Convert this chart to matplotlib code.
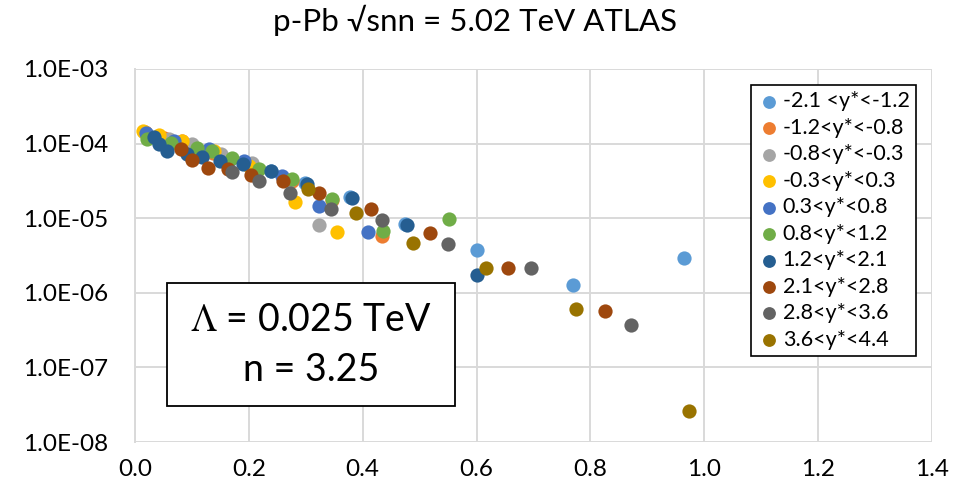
import matplotlib
matplotlib.use("Agg")
import matplotlib.pyplot as plt
from matplotlib.patches import Rectangle

plt.rcParams['font.family'] = ['Lato', 'DejaVu Sans']
plt.rcParams['mathtext.fontset'] = 'stix'

# rapidity bins (legend labels) and marker colours
labels = ['-2.1 <y*<-1.2', '-1.2<y*<-0.8', '-0.8<y*<-0.3', '-0.3<y*<0.3',
          '0.3<y*<0.8', '0.8<y*<1.2', '1.2<y*<2.1', '2.1<y*<2.8',
          '2.8<y*<3.6', '3.6<y*<4.4']
colors = ['#5B9BD5', '#ED7D31', '#A5A5A5', '#FFC000', '#4472C4',
          '#70AD47', '#255E91', '#9E480E', '#636363', '#997300']

# scaled spectra per rapidity bin
x_m21 = [0.019, 0.047, 0.104, 0.165, 0.239, 0.299, 0.378, 0.475, 0.601, 0.770, 0.964]
y_m21 = [1.39e-4, 1.16e-4, 8.0e-5, 5.9e-5, 4.3e-5, 3.0e-5, 1.94e-5, 8.4e-6, 3.7e-6, 1.28e-6, 2.95e-6]

x_m12 = [0.018, 0.051, 0.083, 0.137, 0.200, 0.276, 0.346, 0.434]
y_m12 = [1.44e-4, 1.19e-4, 1.09e-4, 7.5e-5, 5.3e-5, 3.2e-5, 1.75e-5, 5.8e-6]

x_m08 = [0.016, 0.060, 0.100, 0.151, 0.206, 0.271, 0.324]
y_m08 = [1.44e-4, 1.16e-4, 9.9e-5, 7.3e-5, 5.5e-5, 3.2e-5, 8.2e-6]

x_m03 = [0.014, 0.042, 0.083, 0.139, 0.200, 0.281, 0.355]
y_m03 = [1.48e-4, 1.31e-4, 1.09e-4, 8.0e-5, 5.0e-5, 1.66e-5, 6.6e-6]

x_p03 = [0.019, 0.069, 0.130, 0.192, 0.259, 0.324, 0.410]
y_p03 = [1.39e-4, 1.09e-4, 8.5e-5, 5.9e-5, 3.7e-5, 1.47e-5, 6.6e-6]

x_p08 = [0.021, 0.063, 0.109, 0.135, 0.171, 0.218, 0.276, 0.346, 0.436, 0.552]
y_p08 = [1.16e-4, 1.02e-4, 8.7e-5, 8.0e-5, 6.4e-5, 4.6e-5, 3.4e-5, 1.82e-5, 6.8e-6, 9.8e-6]

x_p12 = [0.033, 0.042, 0.056, 0.091, 0.118, 0.149, 0.190, 0.239, 0.302, 0.382, 0.478, 0.601]
y_p12 = [1.23e-4, 9.9e-5, 8.0e-5, 7.3e-5, 6.6e-5, 5.9e-5, 5.3e-5, 4.3e-5, 2.9e-5, 1.88e-5, 8.2e-6, 1.75e-6]

x_p21 = [0.081, 0.100, 0.128, 0.164, 0.204, 0.260, 0.324, 0.415, 0.519, 0.656, 0.825]
y_p21 = [8.5e-5, 6.1e-5, 4.7e-5, 4.6e-5, 3.8e-5, 3.2e-5, 2.2e-5, 1.34e-5, 6.4e-6, 2.17e-6, 5.75e-7]

x_p28 = [0.171, 0.218, 0.273, 0.345, 0.434, 0.549, 0.695, 0.871]
y_p28 = [4.2e-5, 3.2e-5, 2.2e-5, 1.34e-5, 9.5e-6, 4.5e-6, 2.17e-6, 3.74e-7]

x_p36 = [0.304, 0.389, 0.489, 0.616, 0.774, 0.973]
y_p36 = [2.5e-5, 1.18e-5, 4.7e-6, 2.17e-6, 6.1e-7, 2.64e-8]

xs = [x_m21, x_m12, x_m08, x_m03, x_p03, x_p08, x_p12, x_p21, x_p28, x_p36]
ys = [y_m21, y_m12, y_m08, y_m03, y_p03, y_p08, y_p12, y_p21, y_p28, y_p36]

fig = plt.figure(figsize=(9.69, 4.92), dpi=100)
ax = fig.add_axes([0.1393, 0.1016, 0.8225, 0.7582])

for i, (x, y) in enumerate(zip(xs, ys)):
    ax.scatter(x, y, s=105, color=colors[i], label=labels[i],
               linewidths=0, zorder=3 + i)

ax.set_yscale('log')
ax.set_xlim(0, 1.4)
ax.set_ylim(1e-8, 1e-3)
ax.set_xticks([0.0, 0.2, 0.4, 0.6, 0.8, 1.0, 1.2, 1.4])
ax.set_xticklabels(['0.0', '0.2', '0.4', '0.6', '0.8', '1.0', '1.2', '1.4'])
ax.set_yticks([1e-8, 1e-7, 1e-6, 1e-5, 1e-4, 1e-3])
ax.set_yticklabels(['1.0E-08', '1.0E-07', '1.0E-06', '1.0E-05', '1.0E-04', '1.0E-03'])
ax.minorticks_off()
ax.tick_params(length=0, labelsize=17.5)
ax.tick_params(axis='y', pad=19)
ax.tick_params(axis='x', pad=12)
ax.grid(True, color='#D9D9D9', linewidth=1.4, zorder=0)
ax.set_axisbelow(True)
for side in ['top', 'right', 'bottom']:
    ax.spines[side].set_visible(False)
ax.spines['left'].set_color('#D9D9D9')
ax.spines['left'].set_linewidth(1.4)

fig.suptitle('p-Pb \u221asnn = 5.02 TeV ATLAS', fontsize=22.5, x=0.49, y=0.99)

# fit parameter box
ax.add_patch(Rectangle((0.040, 0.0965), 0.3615, 0.33, transform=ax.transAxes,
                       facecolor='white', edgecolor='black', linewidth=1.3,
                       zorder=20))
ax.text(0.221, 0.327, r'$\Lambda$ = 0.025 TeV', transform=ax.transAxes,
        ha='center', va='center', fontsize=27, zorder=21)
ax.text(0.221, 0.193, 'n = 3.25', transform=ax.transAxes,
        ha='center', va='center', fontsize=27, zorder=21)

leg = ax.legend(loc='upper right', bbox_to_anchor=(916 / 969, 1 - 85 / 492),
                bbox_transform=fig.transFigure, fontsize=15.5, frameon=True,
                fancybox=False, edgecolor='black', framealpha=1,
                handletextpad=0.15, labelspacing=0.3, borderpad=0.3,
                handlelength=1.0, borderaxespad=0, scatterpoints=1,
                markerscale=0.9)
leg.get_frame().set_linewidth(1.2)
leg.set_zorder(30)

fig.savefig('out.png', dpi=100)
